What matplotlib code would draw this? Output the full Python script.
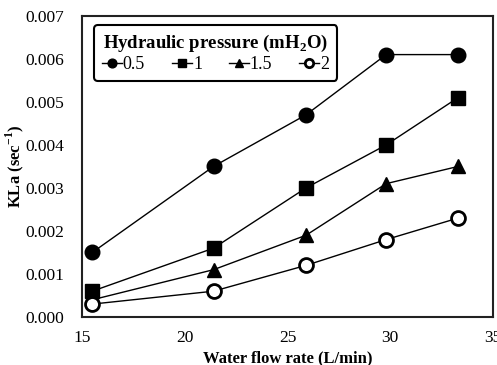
import matplotlib
matplotlib.use("Agg")
import matplotlib.pyplot as plt

flow = [15.5, 21.4, 25.9, 29.8, 33.3]
series_labels = ["0.5", "1", "1.5", "2"]
kla_05 = [0.0015, 0.0035, 0.0047, 0.0061, 0.0061]
kla_1 = [0.0006, 0.0016, 0.0030, 0.0040, 0.0051]
kla_15 = [0.0004, 0.0011, 0.0019, 0.0031, 0.0035]
kla_2 = [0.0003, 0.0006, 0.0012, 0.0018, 0.0023]
xticks = [15, 20, 25, 30, 35]
yticks = [0.000, 0.001, 0.002, 0.003, 0.004, 0.005, 0.006, 0.007]

plt.rcParams['font.family'] = ['Liberation Serif', 'DejaVu Serif']
plt.rcParams['mathtext.fontset'] = 'custom'
plt.rcParams['mathtext.rm'] = 'Liberation Serif'
plt.rcParams['mathtext.bf'] = 'Liberation Serif:bold'

fig = plt.figure(figsize=(4.97, 3.65), dpi=100)
ax = fig.add_axes([0.165, 0.1315, 0.827, 0.825])

styles = [
    dict(marker='o', mfc='black', ms=10.5),
    dict(marker='s', mfc='black', ms=10),
    dict(marker='^', mfc='black', ms=10),
    dict(marker='o', mfc='white', ms=10, mew=2),
]
for y, lab, st in zip([kla_05, kla_1, kla_15, kla_2], series_labels, styles):
    ax.plot(flow, y, color='black', lw=1, mec='black', label=lab, **st)

ax.set_xlim(15, 35)
ax.set_ylim(0, 0.007)
ax.set_xticks(xticks)
ax.set_yticks(yticks)
ax.set_yticklabels([f"{v:.3f}" for v in yticks])
ax.tick_params(axis='y', length=0, labelsize=12.5, pad=13)
ax.tick_params(axis='x', length=0, labelsize=12.5, pad=9)
for s in ax.spines.values():
    s.set_linewidth(1.5)
    s.set_color('#222222')

ax.set_xlabel("Water flow rate (L/min)", fontsize=12, fontweight='bold')
ax.set_ylabel(r"KLa (sec$^{\mathbf{-1}}$)", fontsize=12, fontweight='bold', va='center')
ax.xaxis.set_label_coords(0.5, -0.11)
ax.yaxis.set_label_coords(-0.163, 0.5)

leg = ax.legend(loc='upper left', bbox_to_anchor=(0.029, 0.97), borderaxespad=0,
                ncol=4,
                title=r"Hydraulic pressure (mH$_{\mathbf{2}}$O)",
                title_fontproperties={'weight': 'bold', 'size': 13.5},
                fontsize=13, frameon=True, fancybox=True,
                handlelength=1.1, handletextpad=0.05, columnspacing=1.5,
                markerscale=0.6, borderpad=0.45, labelspacing=0.1)
leg.get_frame().set_edgecolor('black')
leg.get_frame().set_linewidth(1.5)
leg.get_frame().set_alpha(1)

fig.savefig("out.png", dpi=100)
